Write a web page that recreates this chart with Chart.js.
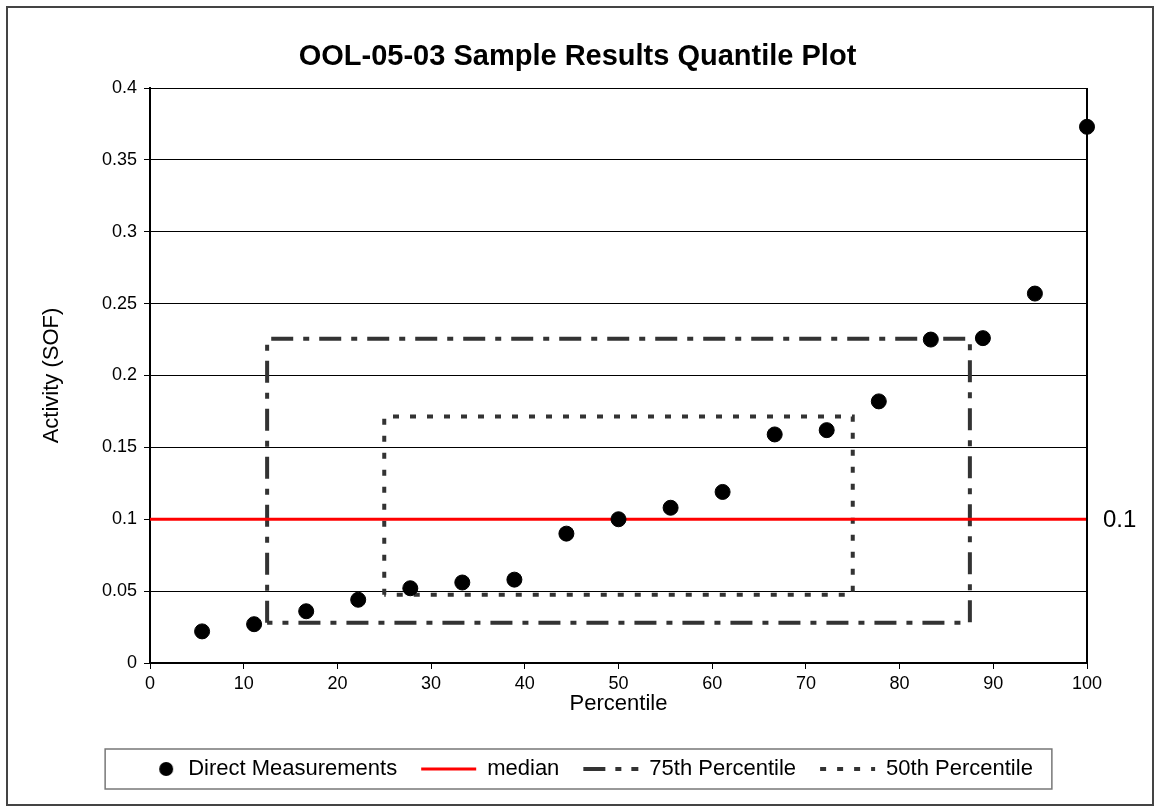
<!DOCTYPE html>
<html>
<head>
<meta charset="utf-8">
<title>OOL-05-03 Sample Results Quantile Plot</title>
<script src="https://cdn.jsdelivr.net/npm/chart.js@4.4.1/dist/chart.umd.min.js"></script>
<style>
  body { margin: 0; background: #fff; }
  canvas { display: block; }
</style>
</head>
<body>
<canvas id="myChart" width="1160" height="811"></canvas>
<script>
// percentile of each sample and its measured activity
const percentiles = [5.56, 11.11, 16.67, 22.22, 27.78, 33.33, 38.89, 44.44, 50, 55.56, 61.11, 66.67, 72.22, 77.78, 83.33, 88.89, 94.44, 100];
const activity = [0.022, 0.027, 0.036, 0.044, 0.052, 0.056, 0.058, 0.090, 0.100, 0.108, 0.119, 0.159, 0.162, 0.182, 0.225, 0.226, 0.257, 0.373];

// median line
const medianX = [0, 100];
const medianValue = 0.1;

// percentile boxes (closed outlines)
const p75X = [12.5, 12.5, 87.5, 87.5, 12.5];
const p75Y = [0.028, 0.2255, 0.2255, 0.028, 0.028];
const p50X = [25, 25, 75, 75, 25];
const p50Y = [0.0475, 0.1715, 0.1715, 0.0475, 0.0475];

const seriesNames = ['Direct Measurements', 'median', '75th Percentile', '50th Percentile'];

const FONT = "'Liberation Sans', Arial, sans-serif";

function toPoints(xs, ys) {
    return xs.map((x, i) => ({ x: x, y: ys[i] }));
}

// little canvas with a dot near its right end, used as legend marker
const dotIcon = document.createElement('canvas');
dotIcon.width = 55;
dotIcon.height = 18;
const dctx = dotIcon.getContext('2d');
dctx.fillStyle = '#000';
dctx.beginPath();
dctx.arc(44, 9, 7, 0, Math.PI * 2);
dctx.fill();

const dashDot = [22, 10, 6, 10];
const dotted = [6, 11];

const frame = {
    id: 'frame',
    beforeDraw(chart) {
        const c = chart.ctx;
        c.save();
        c.fillStyle = '#fff';
        c.fillRect(0, 0, chart.width, chart.height);
        c.strokeStyle = '#444';
        c.lineWidth = 2;
        c.strokeRect(7, 7, 1146, 798);
        c.restore();
    },
    afterDraw(chart) {
        const c = chart.ctx;
        const a = chart.chartArea;
        c.save();
        // right edge of the plot
        c.strokeStyle = '#000';
        c.lineWidth = 2;
        c.beginPath();
        c.moveTo(a.right, a.top);
        c.lineTo(a.right, a.bottom);
        c.stroke();
        // value label of the median line
        c.fillStyle = '#000';
        c.font = '24px ' + FONT;
        c.textAlign = 'left';
        c.textBaseline = 'middle';
        c.fillText(String(medianValue), a.right + 16, chart.scales.y.getPixelForValue(medianValue) + 1);
        // legend border
        const lg = chart.legend;
        if (lg && lg.legendHitBoxes.length) {
            const boxes = lg.legendHitBoxes;
            const l = Math.min(...boxes.map(b => b.left));
            const r = Math.max(...boxes.map(b => b.left + b.width));
            const cy = boxes[0].top + boxes[0].height / 2;
            c.strokeStyle = '#777';
            c.lineWidth = 1.5;
            c.strokeRect(l - 17, cy - 20, (r - l) + 36, 40);
        }
        c.restore();
    }
};

const ctx = document.getElementById('myChart').getContext('2d');
const myChart = new Chart(ctx, {
    type: 'scatter',
    data: {
        datasets: [{
            label: seriesNames[0],
            data: toPoints(percentiles, activity),
            backgroundColor: '#000',
            borderColor: '#000',
            pointRadius: 7.5,
            pointHoverRadius: 7.5,
            clip: false
        }, {
            label: seriesNames[1],
            data: toPoints(medianX, [medianValue, medianValue]),
            showLine: true,
            borderColor: '#ff0000',
            borderWidth: 3,
            pointRadius: 0
        }, {
            label: seriesNames[2],
            data: toPoints(p75X, p75Y),
            showLine: true,
            borderColor: '#333',
            borderWidth: 4,
            borderDash: dashDot,
            pointRadius: 0
        }, {
            label: seriesNames[3],
            data: toPoints(p50X, p50Y),
            showLine: true,
            borderColor: '#333',
            borderWidth: 4,
            borderDash: dotted,
            pointRadius: 0
        }]
    },
    options: {
        responsive: false,
        animation: false,
        layout: {
            padding: { left: 68, right: 73, top: 10, bottom: 21 }
        },
        plugins: {
            tooltip: { enabled: false },
            title: {
                display: true,
                text: 'OOL-05-03 Sample Results Quantile Plot',
                color: '#000',
                font: { family: FONT, size: 29, weight: 'bold' },
                padding: { top: 29.6, bottom: 13.6 }
            },
            legend: {
                position: 'bottom',
                labels: {
                    color: '#000',
                    font: { family: FONT, size: 22 },
                    usePointStyle: true,
                    pointStyleWidth: 55,
                    padding: 24,
                    generateLabels: function(chart) {
                        return chart.data.datasets.map((ds, i) => ({
                            text: ds.label,
                            datasetIndex: i,
                            hidden: false,
                            fillStyle: i === 0 ? '#000' : 'rgba(0,0,0,0)',
                            strokeStyle: ds.borderColor,
                            lineWidth: i === 0 ? 0 : ds.borderWidth,
                            lineDash: ds.borderDash || [],
                            pointStyle: i === 0 ? dotIcon : 'line',
                            fontColor: '#000'
                        }));
                    }
                }
            }
        },
        scales: {
            x: {
                type: 'linear',
                min: 0,
                max: 100,
                afterFit: function(scale) { scale.height = 71; },
                ticks: {
                    stepSize: 10,
                    color: '#000',
                    padding: 4,
                    font: { family: FONT, size: 18 }
                },
                grid: {
                    drawOnChartArea: false,
                    color: '#000',
                    tickLength: 6
                },
                border: { color: '#000', width: 2 },
                title: {
                    display: true,
                    text: 'Percentile',
                    color: '#000',
                    font: { family: FONT, size: 22 },
                    padding: { top: 0, bottom: 16.8 }
                }
            },
            y: {
                min: 0,
                max: 0.4,
                afterFit: function(scale) { scale.width = 82; },
                ticks: {
                    stepSize: 0.05,
                    color: '#000',
                    padding: 7,
                    font: { family: FONT, size: 18 },
                    callback: function(value) {
                        return String(Number(value.toFixed(2)));
                    }
                },
                grid: {
                    color: '#000',
                    lineWidth: 1,
                    tickLength: 6
                },
                border: { color: '#000', width: 2 },
                title: {
                    display: true,
                    text: 'Activity (SOF)',
                    color: '#000',
                    font: { family: FONT, size: 22 },
                    padding: { top: -29.2, bottom: 0 }
                }
            }
        }
    },
    plugins: [frame]
});
</script>
</body>
</html>
